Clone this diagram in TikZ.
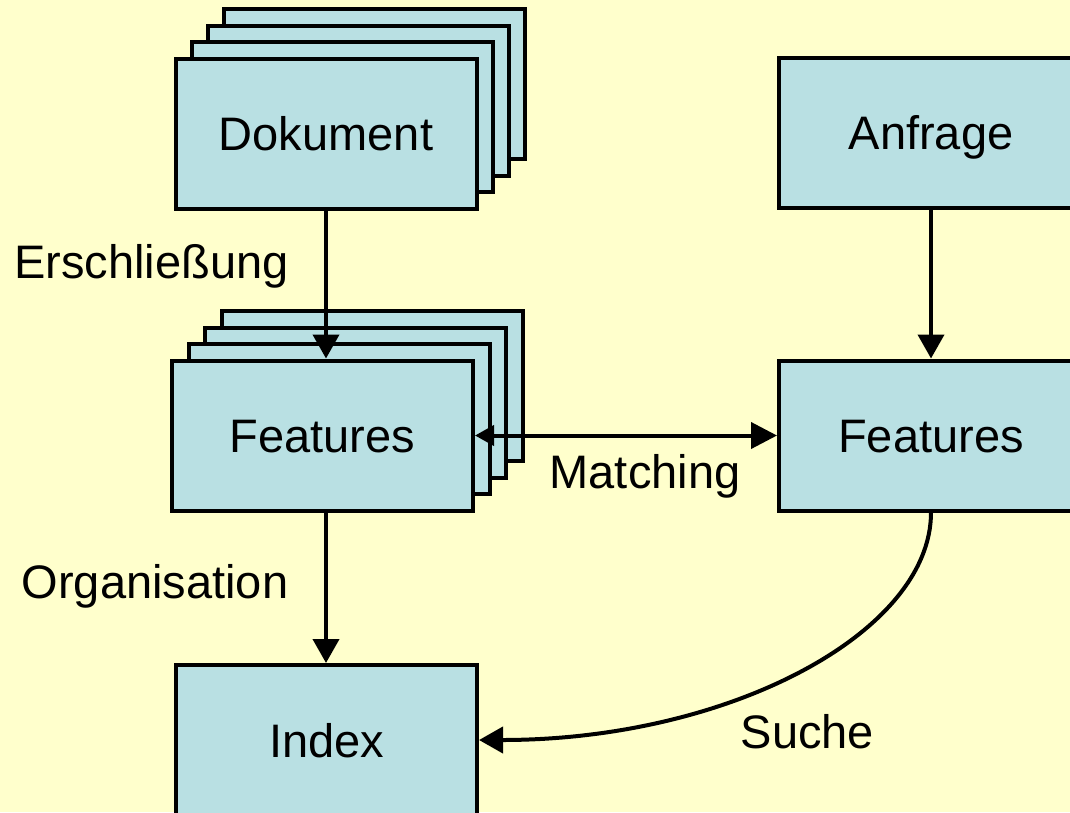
\documentclass[tikz,border=0pt]{standalone}
\usepackage{fontspec}
\setmainfont{Liberation Sans}
\usetikzlibrary{arrows.meta}
\definecolor{paper}{HTML}{FFFFCC}
\definecolor{boxblue}{HTML}{B9E0E3}
\tikzset{
  big/.style={font=\fontsize{47}{56}\selectfont, text height=34pt, text depth=0pt},
  card/.style={big, draw=black, fill=boxblue, line width=4pt, rectangle,
    minimum width=301pt, minimum height=150pt, inner sep=0pt},
  lbl/.style={big, inner sep=0pt},
  flow/.style={line width=4pt, -{Triangle[length=24pt,width=26pt]}},
}
\begin{document}
\begin{tikzpicture}[x=1pt,y=-1pt]
  \fill[paper] (0,0) rectangle (1070,812);
  \useasboundingbox (0,0) rectangle (1070,812);
  \clip (0,0) rectangle (1070,812);

  % stacked documents
  \foreach \k in {3,2,1}
    \node[card] at (326+16*\k,133.5-16.5*\k) {};
  \node[card] (dok) at (326,133.5) {Dokument};

  % stacked feature sets of the documents
  \foreach \k in {3,2,1}
    \node[card] at (322.5+16.5*\k,435.5-16.5*\k) {};
  \node[card] (featL) at (322.5,435.5) {Features};

  % query side
  \node[card, minimum width=304pt] (anf) at (931,132.5) {Anfrage};
  \node[card, minimum width=304pt] (featR) at (931,435.5) {Features};

  % index
  \node[card] (idx) at (326.5,740) {Index};

  % labels
  \node[lbl] (lErs) at (151.5,261.5) {Erschließung};
  \node[lbl] (lOrg) at (155,581.5) {Organisation};
  \node[lbl] (lMat) at (645,471.5) {Matching};
  \node[lbl] (lSuc) at (807.5,731) {Suche};

  % connectors
  \draw[flow] (dok.south) -- (dok.south |- featL.north);
  \draw[flow] (anf) -- (featR);
  \draw[flow] (featL.south -| dok.south) -- (idx.north -| dok.south);
  \draw[line width=4pt, {Triangle[length=19pt,width=20pt]}-{Triangle[length=26pt,width=26pt]}]
    (featL.east) -- (featR.west);
  \draw[flow] (featR.south) .. controls +(0,120) and +(250,0) .. (idx.east);
\end{tikzpicture}
\end{document}
